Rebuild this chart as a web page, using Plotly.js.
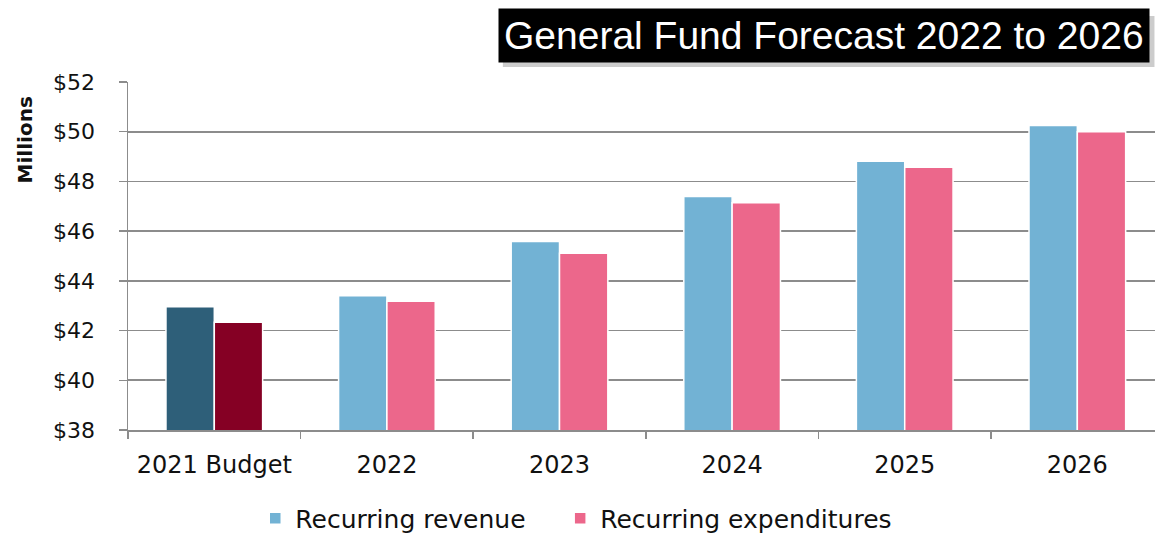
<!DOCTYPE html>
<html>
<head>
<meta charset="utf-8">
<script src="https://cdn.plot.ly/plotly-3.0.1.min.js"></script>
<style>
  html, body { margin: 0; padding: 0; background: #fff; }
  #chart { width: 1155px; height: 533px; }
</style>
</head>
<body>
<div id="chart"></div>
<script>
// Values in millions of dollars
var categories = ['2021 Budget', '2022', '2023', '2024', '2025', '2026'];
var revenue = [42.96, 43.4, 45.58, 47.39, 48.81, 50.25];
var expenditures = [42.33, 43.18, 45.11, 47.14, 48.57, 50.0];
var yTicks = [38, 40, 42, 44, 46, 48, 50, 52];
var yTickText = yTicks.map(function (v) { return '$' + v; });

var fontName = 'DejaVu Sans, sans-serif';
var gridGray = 'rgb(140,140,140)';

// the budget year gets darker colours, so it is drawn as its own pair of traces
function makeTrace(name, x, y, color, group, legend) {
    return {
        type: 'bar',
        name: name,
        x: x,
        y: y,
        offsetgroup: group,
        showlegend: legend !== null,
        legend: legend || 'legend',
        marker: {
            color: color,
            line: { color: '#fff', width: 1.5 }
        },
        hoverinfo: 'x+y'
    };
}

var data = [
    makeTrace('Recurring revenue', categories.slice(1), revenue.slice(1), '#72B2D4', 'rev', 'legend'),
    makeTrace('Recurring expenditures', categories.slice(1), expenditures.slice(1), '#EC678B', 'exp', 'legend2'),
    makeTrace('2021 revenue', categories.slice(0, 1), revenue.slice(0, 1), '#2E5F79', 'rev', null),
    makeTrace('2021 expenditures', categories.slice(0, 1), expenditures.slice(0, 1), '#850024', 'exp', null)
];

// one legend per series so the spacing between the two entries can match
function legendAt(x) {
    return {
        orientation: 'h',
        xref: 'container',
        yref: 'container',
        x: x,
        xanchor: 'left',
        y: 0.027,
        yanchor: 'middle',
        font: { size: 25 },
        itemwidth: 30
    };
}

var layout = {
    width: 1155,
    height: 533,
    margin: { l: 128, r: 0, t: 82, b: 103 },
    paper_bgcolor: '#fff',
    plot_bgcolor: '#fff',
    font: { family: fontName, size: 20, color: '#111' },
    barmode: 'group',
    bargap: 0.44,
    bargroupgap: 0,
    xaxis: {
        type: 'category',
        categoryorder: 'array',
        categoryarray: categories,
        range: [-0.5, 5.45],
        showline: true,
        linecolor: gridGray,
        linewidth: 1.5,
        ticks: 'outside',
        tickson: 'boundaries',
        ticklen: 7,
        tickcolor: gridGray,
        tickwidth: 1.5,
        showgrid: false,
        tickfont: { size: 24 },
        ticklabelstandoff: 13
    },
    yaxis: {
        range: [38, 52],
        tickvals: yTicks,
        ticktext: yTickText,
        showline: true,
        linecolor: gridGray,
        linewidth: 1.5,
        ticks: 'outside',
        ticklen: 8,
        tickcolor: gridGray,
        tickwidth: 1.5,
        showgrid: true,
        gridcolor: gridGray,
        gridwidth: 1.6,
        zeroline: false,
        tickfont: { size: 22 },
        ticklabelstandoff: 19
    },
    legend: legendAt(0.221),
    legend2: legendAt(0.485),
    shapes: [
        {
            // soft shadow behind the title box
            type: 'rect',
            xref: 'paper', yref: 'paper',
            x0: 0.365, x1: 0.9995,
            y0: 1.043, y1: 1.19,
            line: { width: 0 },
            fillcolor: 'rgba(0,0,0,0.2)',
            layer: 'above'
        }
    ],
    annotations: [
        {
            xref: 'paper', yref: 'paper',
            x: 0.995, y: 1.135,
            xanchor: 'right', yanchor: 'middle',
            text: 'General Fund Forecast 2022 to 2026',
            showarrow: false,
            bgcolor: '#000',
            borderpad: 5,
            font: { family: 'Liberation Sans, Arial, sans-serif', size: 39, color: '#fff' }
        },
        {
            xref: 'paper', yref: 'paper',
            x: -0.1, y: 0.833,
            xanchor: 'center', yanchor: 'middle',
            text: '<b>Millions</b>',
            textangle: -90,
            showarrow: false,
            font: { family: fontName, size: 20, color: '#111' }
        }
    ]
};

Plotly.newPlot('chart', data, layout, { displayModeBar: false, staticPlot: true });
</script>
</body>
</html>
